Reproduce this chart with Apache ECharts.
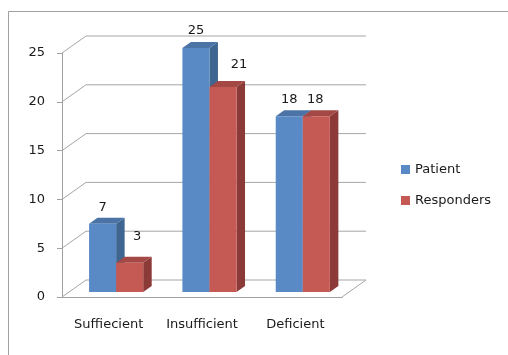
<!DOCTYPE html>
<html>
<head>
<meta charset="utf-8">
<script src="https://cdn.jsdelivr.net/npm/echarts@6/dist/echarts.min.js"></script>
<style>html,body{margin:0;padding:0;background:#fff}#c{width:508px;height:355px}</style>
</head>
<body>
<div id="c"></div>
<script>
const categories = ['Suffiecient', 'Insufficient', 'Deficient'];
const patient = [7, 25, 18];
const responders = [3, 21, 18];
const yTicks = [0, 5, 10, 15, 20, 25];
const seriesNames = ['Patient', 'Responders'];

// label nudges (layout only)
const labelNudge = [
  [[0, -16], [0, -17], [0, -17]],
  [[7.5, -26], [16, -22], [-1, -17]]
];

const FONT = 'DejaVu Sans';
const DEPTH_X = 24, DEPTH_Y = -17;
const palette = [
  { front: '#5A8AC5', side: '#3F6591', top: '#4B73A6' },
  { front: '#C55A55', side: '#8B3A38', top: '#A34845' }
];

function barRender(s) {
  return function (params, api) {
    const i = api.value(0), v = api.value(1);
    const base = api.coord([i, 0]);
    const topP = api.coord([i, v]);
    const band = api.size([1, 0])[0];
    const w = band * 0.29;
    const sx = band * 0.08, sy = -5;
    const dx = 8.5, dy = -6;
    const left = base[0] + sx - w + s * w;
    const by = base[1] + sy, ty = topP[1] + sy;
    const c = palette[s];
    const nd = labelNudge[s][i];
    return {
      type: 'group',
      children: [
        { type: 'polygon', shape: { points: [[left + w, ty], [left + w + dx, ty + dy], [left + w + dx, by + dy], [left + w, by]] }, style: { fill: c.side } },
        { type: 'polygon', shape: { points: [[left, ty], [left + w, ty], [left + w + dx, ty + dy], [left + dx, ty + dy]] }, style: { fill: c.top } },
        { type: 'rect', shape: { x: left, y: ty, width: w, height: by - ty }, style: { fill: c.front } },
        { type: 'text', x: left + w / 2 + nd[0], y: ty + nd[1], style: { text: String(v), fill: '#1a1a1a', font: '13px ' + FONT, align: 'center', verticalAlign: 'middle' } }
      ]
    };
  };
}

function wallRender(params, api) {
  const v = api.value(1);
  const cs = params.coordSys;
  const y = api.coord([0, v])[1];
  const x0 = cs.x, x1 = cs.x + cs.width;
  const children = [
    { type: 'polyline', shape: { points: [[x0, y], [x0 + DEPTH_X, y + DEPTH_Y], [x1 + DEPTH_X, y + DEPTH_Y]] }, style: { stroke: '#a6a6a6', lineWidth: 1, fill: null } }
  ];
  if (v === 0) {
    children.push({ type: 'line', shape: { x1: x1, y1: y, x2: x1 + DEPTH_X, y2: y + DEPTH_Y }, style: { stroke: '#a6a6a6', lineWidth: 1 } });
  }
  return { type: 'group', children: children };
}

const chart = echarts.init(document.getElementById('c'));
chart.setOption({
  animation: false,
  backgroundColor: '#fff',
  textStyle: { fontFamily: FONT },
  grid: { left: 62, right: 166, top: 53, bottom: 58 },
  graphic: [
    { type: 'polyline', shape: { points: [[8.5, 355], [8.5, 11.5], [508, 11.5]] }, style: { stroke: '#a0a0a0', lineWidth: 1, fill: null }, silent: true }
  ],
  legend: {
    data: seriesNames.map((n, k) => ({ name: n, icon: 'rect', itemStyle: { color: palette[k].front } })),
    orient: 'vertical',
    left: 396,
    top: 158,
    itemWidth: 9,
    itemHeight: 9,
    itemGap: 18,
    textStyle: { fontFamily: FONT, fontSize: 13, color: '#1a1a1a' }
  },
  xAxis: {
    type: 'category',
    data: categories,
    axisLine: { lineStyle: { color: '#a0a0a0' } },
    axisTick: { length: 5, lineStyle: { color: '#a0a0a0' } },
    axisLabel: { margin: 21, fontSize: 13, fontFamily: FONT, color: '#1a1a1a' }
  },
  yAxis: {
    type: 'value',
    min: 0, max: 25, interval: 5,
    axisLine: { show: true, lineStyle: { color: '#a0a0a0' } },
    axisTick: { show: true, length: 5, lineStyle: { color: '#a0a0a0' } },
    axisLabel: { margin: 17, fontSize: 13, fontFamily: FONT, color: '#1a1a1a' },
    splitLine: { show: false }
  },
  series: [
    { type: 'custom', name: '_wall', silent: true, z: 1, renderItem: wallRender, data: yTicks.map(t => [0, t]) },
    { type: 'custom', name: seriesNames[0], z: 2, itemStyle: { color: palette[0].front }, renderItem: barRender(0), data: patient.map((v, i) => [i, v]) },
    { type: 'custom', name: seriesNames[1], z: 3, itemStyle: { color: palette[1].front }, renderItem: barRender(1), data: responders.map((v, i) => [i, v]) }
  ]
});
</script>
</body>
</html>
